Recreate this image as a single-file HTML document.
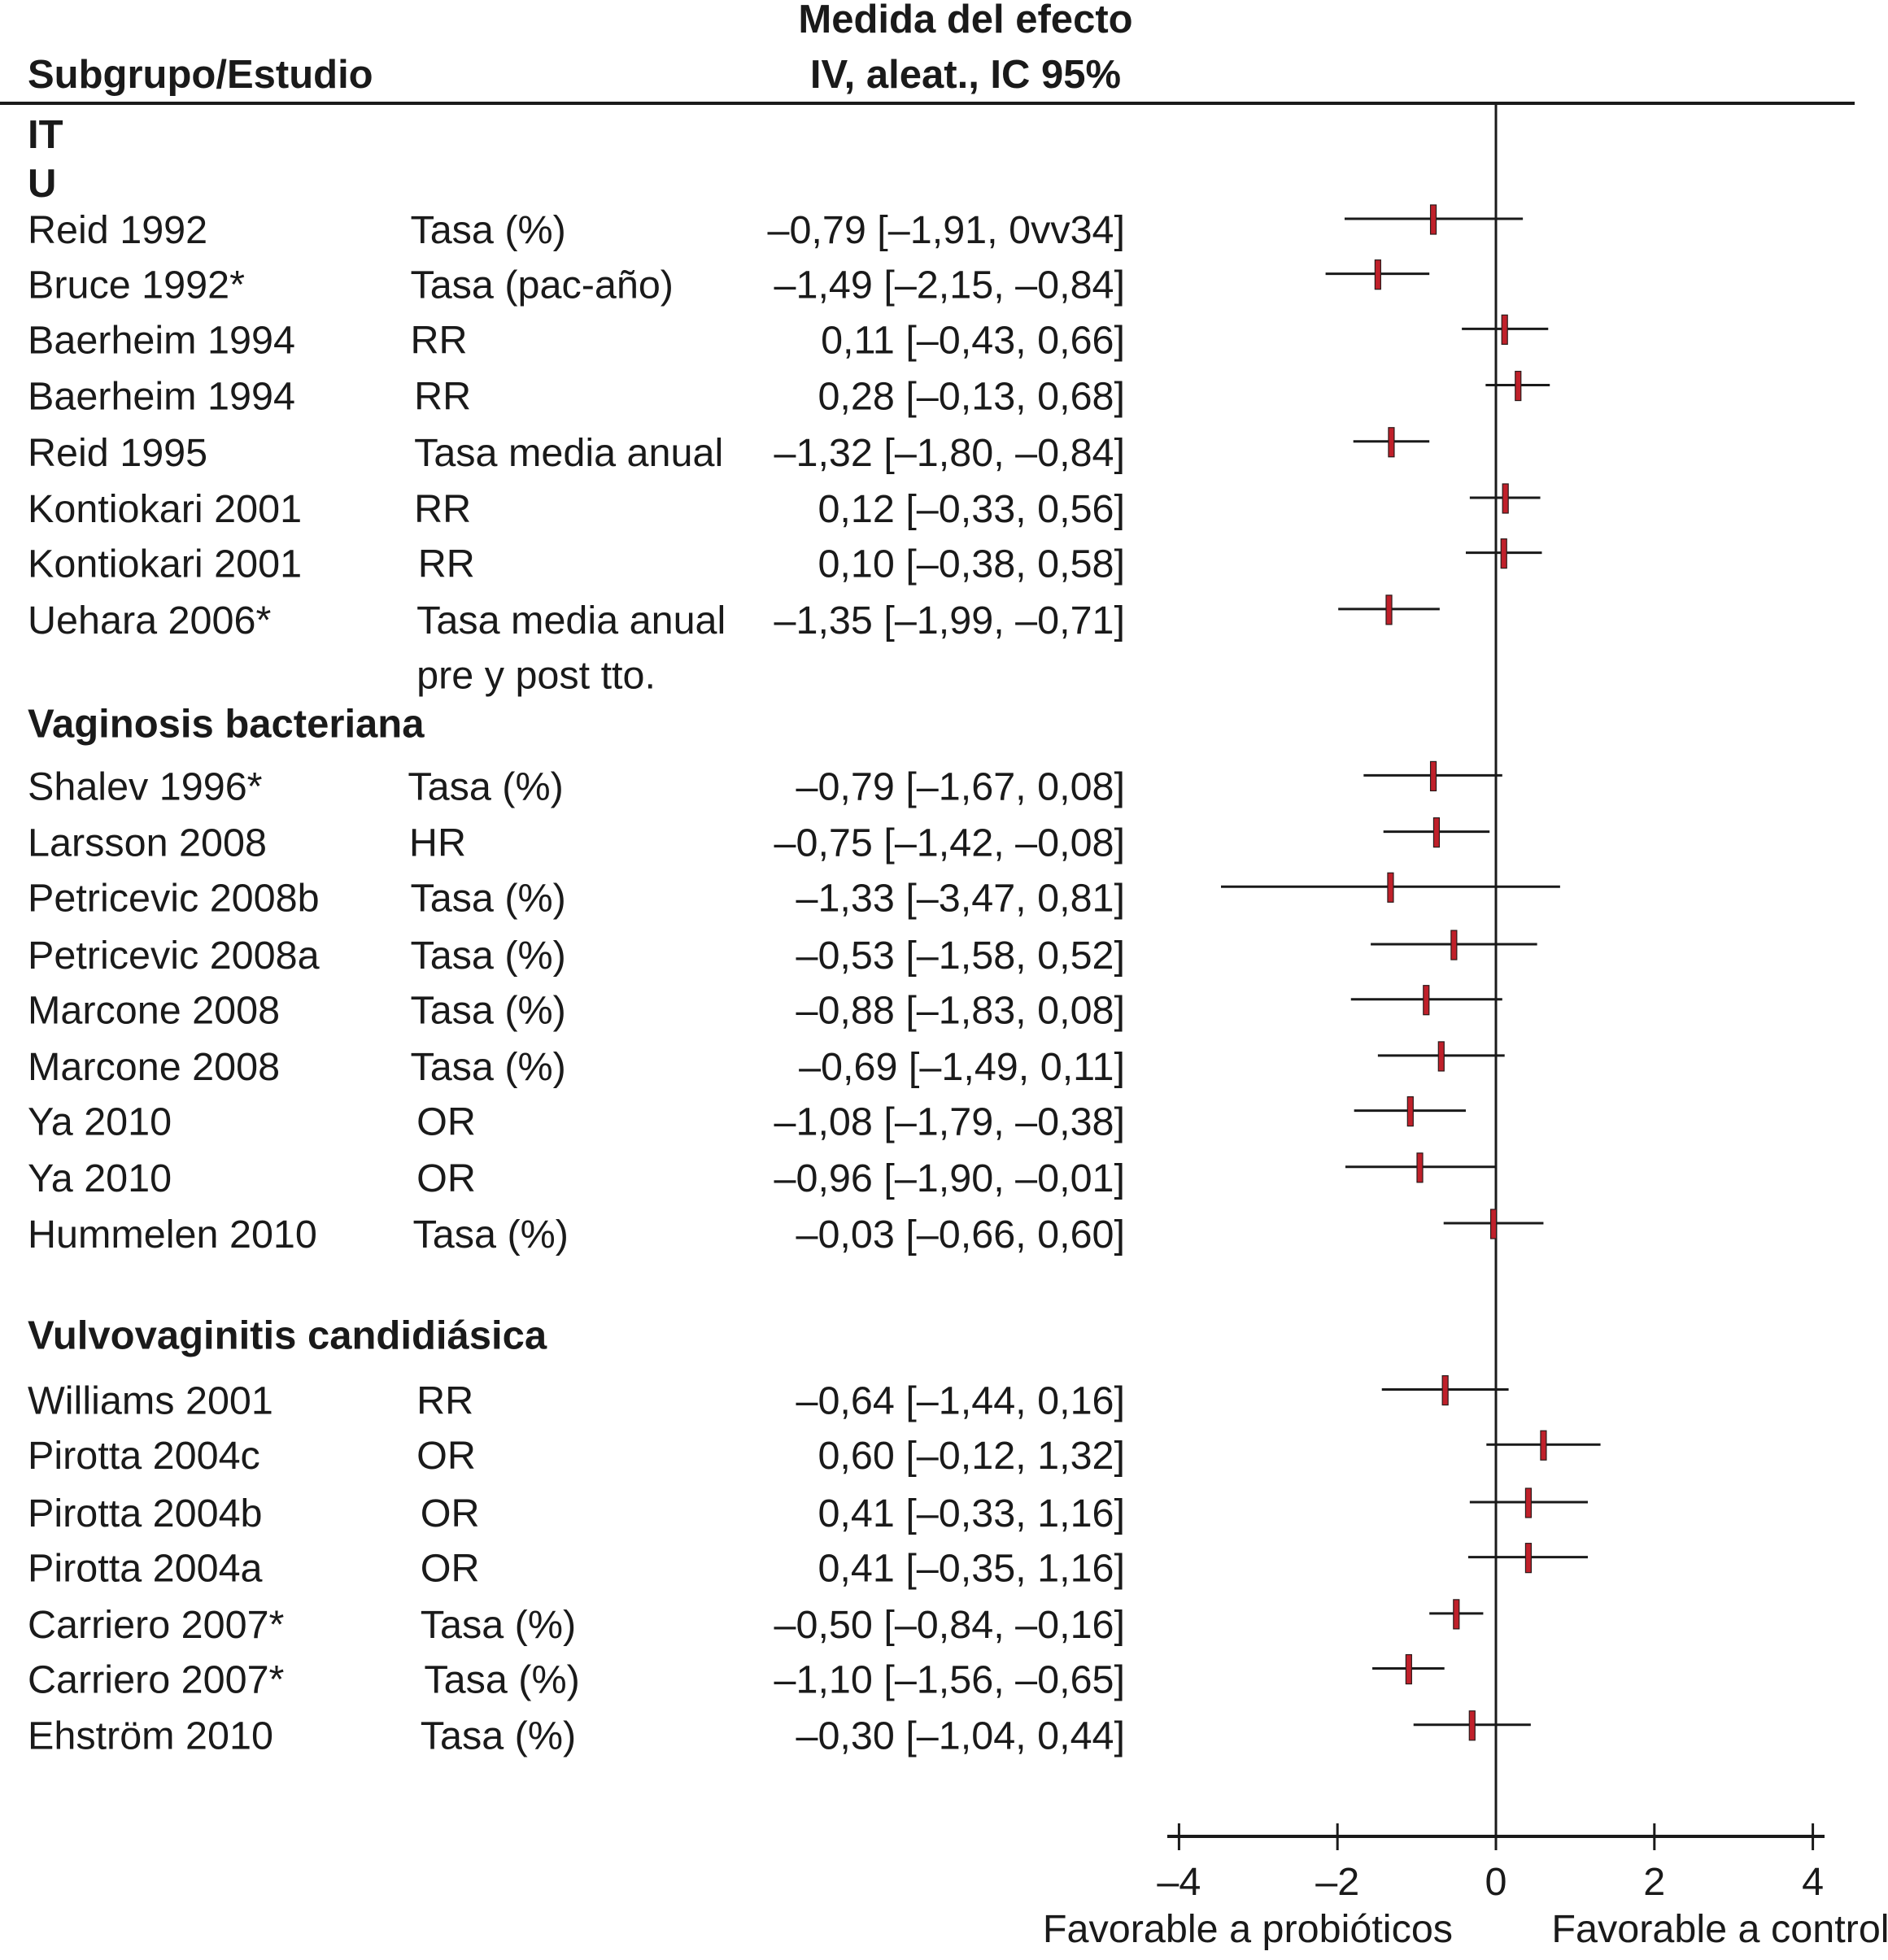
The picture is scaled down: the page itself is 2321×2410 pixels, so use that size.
<!DOCTYPE html>
<html><head><meta charset="utf-8">
<style>
html,body{margin:0;padding:0;background:#fff;}
svg{display:block;}
text{font-family:"Liberation Sans",Arial,sans-serif;font-size:48.5px;fill:#1a1a1a;}
.b{font-weight:bold;font-size:49px;}
</style></head>
<body>
<svg id="chart" width="2321" height="2410" viewBox="0 0 2321 2410" xmlns="http://www.w3.org/2000/svg">
<g>
<text class="b" x="1187" y="40" text-anchor="middle">Medida del efecto</text>
<text class="b" x="1187" y="108" text-anchor="middle">IV, aleat., IC 95%</text>
<text class="b" x="34" y="108">Subgrupo/Estudio</text>
<rect x="0" y="125" width="2280" height="4" fill="#1a1a1a"/>
</g>
<g id="labels"></g>
<g id="marks"></g>
<g id="axis"></g>
</svg>
<script>
// Chart data
const studies = ["Reid 1992","Bruce 1992*","Baerheim 1994","Baerheim 1994","Reid 1995","Kontiokari 2001","Kontiokari 2001","Uehara 2006*",
"Shalev 1996*","Larsson 2008","Petricevic 2008b","Petricevic 2008a","Marcone 2008","Marcone 2008","Ya 2010","Ya 2010","Hummelen 2010",
"Williams 2001","Pirotta 2004c","Pirotta 2004b","Pirotta 2004a","Carriero 2007*","Carriero 2007*","Ehström 2010"];
const measures = ["Tasa (%)","Tasa (pac-año)","RR","RR","Tasa media anual","RR","RR","Tasa media anual",
"Tasa (%)","HR","Tasa (%)","Tasa (%)","Tasa (%)","Tasa (%)","OR","OR","Tasa (%)",
"RR","OR","OR","OR","Tasa (%)","Tasa (%)","Tasa (%)"];
const estimates = [-0.79,-1.49,0.11,0.28,-1.32,0.12,0.10,-1.35,
-0.79,-0.75,-1.33,-0.53,-0.88,-0.69,-1.08,-0.96,-0.03,
-0.64,0.60,0.41,0.41,-0.50,-1.10,-0.30];
const lower = [-1.91,-2.15,-0.43,-0.13,-1.80,-0.33,-0.38,-1.99,
-1.67,-1.42,-3.47,-1.58,-1.83,-1.49,-1.79,-1.90,-0.66,
-1.44,-0.12,-0.33,-0.35,-0.84,-1.56,-1.04];
const upper = [0.34,-0.84,0.66,0.68,-0.84,0.56,0.58,-0.71,
0.08,-0.08,0.81,0.52,0.08,0.11,-0.38,-0.01,0.60,
0.16,1.32,1.16,1.16,-0.16,-0.65,0.44];
const printed = ["–0,79 [–1,91, 0vv34]"];
const ticks = [-4,-2,0,2,4];
const tickLabels = ["–4","–2","0","2","4"];

const S = 1.538;
const rowY = [184,228,272,317,362,407,451,496,629,674,718,764,808,853,897,942,987,1120,1164,1210,1254,1299,1343,1388].map(v=>v*S);
const typeX = [328,328,328,331,331,331,334,333,326,327,328,328,328,328,333,333,330,333,333,336,336,336,339,336].map(v=>v*S);

function xs(v){ return 1839 + v*97.4; }
function fmt(v){ return (v<0?"–":"") + Math.abs(v).toFixed(2).replace(".",","); }

const NS="http://www.w3.org/2000/svg";
function mk(tag, attrs, parent){ const e=document.createElementNS(NS,tag); for(const k in attrs) e.setAttribute(k,attrs[k]); parent.appendChild(e); return e; }

const L=document.getElementById('labels');
const groups=[["IT",108],["U",147],["Vaginosis bacteriana",579],["Vulvovaginitis candidiásica",1068]];
groups.forEach(g=>{
  const t=mk('text',{x:34,y:g[1]*S+16,'class':'b'},L);
  
  
  t.textContent=g[0];
});
const extra=mk('text',{x:333*S,y:540*S+16},L);


extra.textContent="pre y post tto.";

const M=document.getElementById('marks');
const z=mk('line',{x1:xs(0),x2:xs(0),y1:129,y2:2258,stroke:'#1a1a1a','stroke-width':3},M);



studies.forEach((s,i)=>{
  const y=rowY[i];
  const n=mk('text',{x:34,y:y+16},L);
  
  
  n.textContent=s;
  const m=mk('text',{x:typeX[i],y:y+16},L);
  
  
  m.textContent=measures[i];
  const v=mk('text',{x:1383,y:y+16,'text-anchor':'end'},L);
  
  
  v.textContent = (i===0 && printed[0]) ? printed[0] : fmt(estimates[i])+" ["+fmt(lower[i])+", "+fmt(upper[i])+"]";
  const my=y-14;
  const ci=mk('line',{x1:xs(lower[i]),x2:xs(upper[i]),y1:my,y2:my,stroke:'#1a1a1a','stroke-width':3},M);
  
  
  const pt=mk('rect',{x:xs(estimates[i])-3.5,y:my-17,width:7,height:36,fill:'#c0202a',stroke:'#2a1a1a','stroke-width':1.2},M);
  
  
});

const A=document.getElementById('axis');
const al=mk('line',{x1:1435,x2:2243,y1:2258,y2:2258,stroke:'#1a1a1a','stroke-width':4},A);


ticks.forEach((t,i)=>{
  const tk=mk('line',{x1:xs(t),x2:xs(t),y1:2242,y2:2275,stroke:'#1a1a1a','stroke-width':3},A);
  
  
  const tl=mk('text',{x:xs(t),y:2330,'text-anchor':'middle'},A);
  
  
  tl.textContent=tickLabels[i];
});
const f1=mk('text',{x:1534,y:2388,'text-anchor':'middle'},A);


f1.textContent="Favorable a probióticos";
const f2=mk('text',{x:2115,y:2388,'text-anchor':'middle'},A);


f2.textContent="Favorable a control";
</script>
</body></html>
